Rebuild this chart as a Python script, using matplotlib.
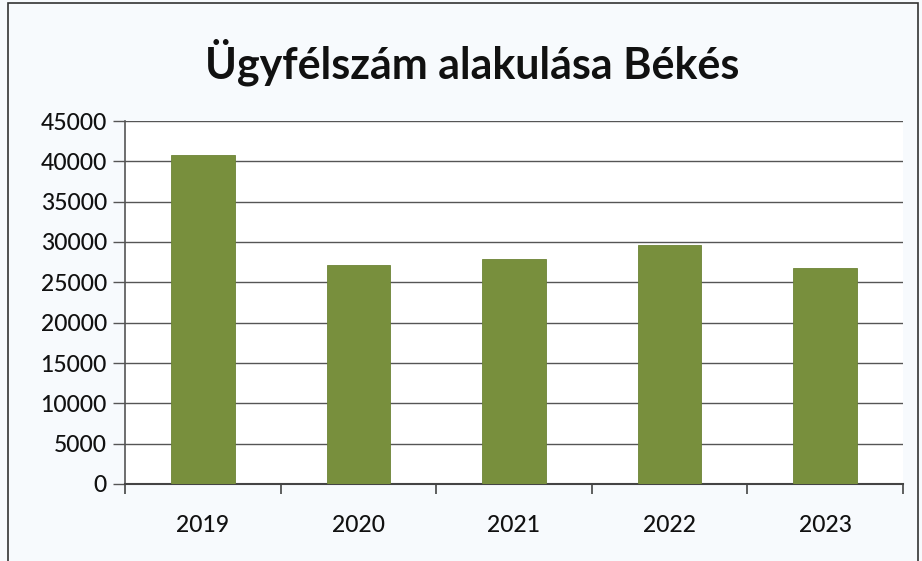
import matplotlib.pyplot as plt
from matplotlib.patches import Rectangle

years = ['2019', '2020', '2021', '2022', '2023']
ugyfelszam = [40750, 27100, 27900, 29600, 26800]
yticks = list(range(0, 45001, 5000))

plt.rcParams['font.family'] = ['Lato', 'DejaVu Sans']

fig = plt.figure(figsize=(9.22, 5.61), dpi=100, facecolor='#f7fafd')
ax = fig.add_axes([125 / 922, 1 - 484 / 561, 778 / 922, 363 / 561])
ax.set_facecolor('white')

x = list(range(len(years)))
ax.bar(x, ugyfelszam, width=0.41, color='#788f3d', edgecolor='#6d8436', linewidth=0.6, zorder=3)

ax.set_xlim(-0.5, len(years) - 0.5)
ax.set_ylim(0, 45000)
ax.set_yticks(yticks)
ax.set_yticklabels([str(v) for v in yticks], fontsize=16.5, fontweight='medium', color='#111111')
ax.yaxis.grid(True, color='#555555', linewidth=1.0, zorder=0)
ax.set_axisbelow(True)

ax.set_xticks(x)
ax.set_xticklabels(years, fontsize=16.5, fontweight='medium', color='#111111')
ax.tick_params(axis='x', length=0, pad=22)
ax.set_xticks([i + 0.5 for i in range(-1, len(years))], minor=True)
ax.tick_params(axis='x', which='minor', length=7, color='#444444', width=1.2)
ax.tick_params(axis='y', length=9, color='#555555', width=1.0, pad=4)

for s in ['top', 'right']:
    ax.spines[s].set_visible(False)
ax.spines['left'].set_color('#555555')
ax.spines['left'].set_linewidth(1.2)
ax.spines['bottom'].set_color('#444444')
ax.spines['bottom'].set_linewidth(1.5)

fig.text(472 / 922, 1 - 62 / 561, 'Ügyfélszám alakulása Békés', ha='center', va='center',
         fontsize=31, fontweight='bold', color='#111111')

# outer chart border (scan frame)
fig.patches.append(Rectangle((8 / 922, -0.01), 910 / 922, 1 - 3 / 561 + 0.01, transform=fig.transFigure,
                             fill=False, edgecolor='#333333', linewidth=1.2))

fig.savefig('out.png', dpi=100, facecolor=fig.get_facecolor())
